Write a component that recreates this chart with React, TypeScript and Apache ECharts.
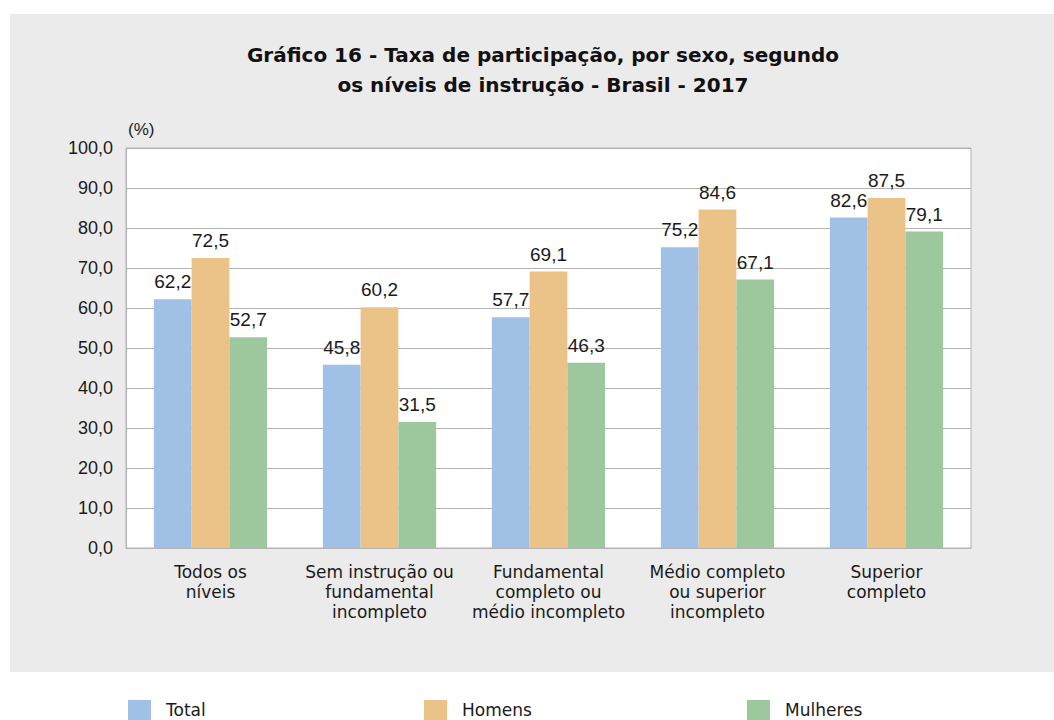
import React, { useEffect, useRef } from "react";
import * as echarts from "echarts";

const categories = [
  "Todos os\nníveis",
  "Sem instrução ou\nfundamental\nincompleto",
  "Fundamental\ncompleto ou\nmédio incompleto",
  "Médio completo\nou superior\nincompleto",
  "Superior\ncompleto",
];
const total = [62.2, 45.8, 57.7, 75.2, 82.6];
const homens = [72.5, 60.2, 69.1, 84.6, 87.5];
const mulheres = [52.7, 31.5, 46.3, 67.1, 79.1];
const seriesNames = ["Total", "Homens", "Mulheres"];
const colors = ["#a0c0e6", "#ebc389", "#9dc89d"];

const NUMFONT = "Liberation Sans, Arial, sans-serif";
const TXTFONT = "DejaVu Sans, sans-serif";
const fmt = (v: number) => v.toFixed(1).replace(".", ",");

export default function App() {
  const ref = useRef<HTMLDivElement>(null);
  useEffect(() => {
    document.body.style.margin = "0";
    const chart = echarts.init(ref.current!, null, { renderer: "svg" });
    const label = {
      show: true,
      position: "top" as const,
      distance: 8,
      formatter: (p: any) => fmt(p.value),
      fontSize: 19,
      color: "#1a1a1a",
      fontFamily: NUMFONT,
    };
    const data = [total, homens, mulheres];
    const legendX = [128, 424, 747];
    chart.setOption({
      animation: false,
      textStyle: { fontFamily: TXTFONT },
      graphic: [
        {
          type: "rect",
          z: -10,
          silent: true,
          shape: { x: 10, y: 14, width: 1044, height: 658 },
          style: { fill: "#ebebeb" },
        },
      ],
      title: {
        text: "Gráfico 16 - Taxa de participação, por sexo, segundo\nos níveis de instrução - Brasil - 2017",
        left: 538,
        top: 35,
        textAlign: "center",
        textStyle: {
          fontSize: 20,
          fontWeight: "bold",
          color: "#111",
          lineHeight: 30,
          fontFamily: TXTFONT,
        },
      },
      legend: seriesNames.map((n, i) => ({
        data: [n],
        left: legendX[i],
        top: 700,
        padding: 0,
        itemWidth: 23,
        itemHeight: 20,
        icon: "rect",
        textStyle: {
          fontSize: 17,
          color: "#1a1a1a",
          fontFamily: TXTFONT,
          padding: [0, 0, 0, 10],
        },
      })),
      grid: {
        left: 126,
        right: 83,
        top: 148,
        bottom: 172,
        show: true,
        backgroundColor: "#ffffff",
        borderColor: "#b4b4b4",
        borderWidth: 1,
      },
      xAxis: {
        type: "category",
        data: categories,
        axisTick: { show: false },
        axisLine: { lineStyle: { color: "#b4b4b4" } },
        axisLabel: {
          fontSize: 17,
          color: "#1a1a1a",
          lineHeight: 20,
          margin: 14,
          fontFamily: TXTFONT,
          interval: 0,
        },
      },
      yAxis: {
        type: "value",
        min: 0,
        max: 100,
        interval: 10,
        name: "(%)",
        nameLocation: "end",
        nameGap: 10,
        nameTextStyle: {
          fontSize: 17,
          color: "#1a1a1a",
          align: "left",
          padding: [0, 0, 0, 2],
          fontFamily: NUMFONT,
        },
        axisLine: { show: true, lineStyle: { color: "#b4b4b4" } },
        axisTick: { show: false },
        splitLine: { lineStyle: { color: "#b4b4b4" } },
        axisLabel: {
          fontSize: 18,
          color: "#1a1a1a",
          margin: 13,
          formatter: (v: number) => fmt(v),
          fontFamily: NUMFONT,
        },
      },
      series: seriesNames.map((n, i) => ({
        name: n,
        type: "bar",
        data: data[i],
        itemStyle: { color: colors[i] },
        barGap: "0%",
        barCategoryGap: "33%",
        label,
      })),
    });
    return () => chart.dispose();
  }, []);
  return <div ref={ref} style={{ width: 1054, height: 720 }} />;
}
